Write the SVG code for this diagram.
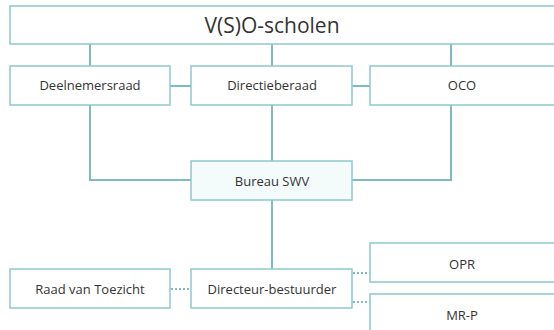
<svg xmlns="http://www.w3.org/2000/svg" width="554" height="330" viewBox="0 0 554 330">
<style>
.box{fill:#ffffff;stroke:#8fc9cc;stroke-width:1.5}
.tint{fill:#f3fbfb}
.ln{fill:none;stroke:#7dbdc1;stroke-width:2}
.dot{fill:none;stroke:#7dbdc1;stroke-width:2;stroke-dasharray:2 2}
text{font-family:"Open Sans","Noto Sans",sans-serif;fill:#333333;text-anchor:middle}
.t{font-size:13px}
</style>
<rect width="554" height="330" fill="#ffffff"/>
<g id="connectors">
<path class="ln" d="M90 44V66M272 44V66M451 44V66"/>
<path class="ln" d="M170 86H191M352 86H370"/>
<path class="ln" d="M90 105V180H191M451 105V180H352M272 105V161"/>
<path class="ln" d="M272 200V269"/>
<path class="dot" d="M171 289H191M353 273H370M353 302H370"/>
</g>
<g id="vso"><rect class="box" x="10" y="6" width="560" height="38"/><text x="272" y="33" font-size="21">V(S)O-scholen</text></g>
<g id="deelnemersraad"><rect class="box" x="10" y="66" width="160" height="39"/><text class="t" x="90" y="90">Deelnemersraad</text></g>
<g id="directieberaad"><rect class="box" x="191" y="66" width="161" height="39"/><text class="t" x="272" y="90">Directieberaad</text></g>
<g id="oco"><rect class="box" x="370" y="66" width="200" height="39"/><text class="t" x="462" y="90">OCO</text></g>
<g id="bureau"><rect class="box tint" x="191" y="161" width="161" height="39"/><text class="t" x="272" y="186">Bureau SWV</text></g>
<g id="rvt"><rect class="box" x="10" y="269" width="160" height="39"/><text class="t" x="90" y="294">Raad van Toezicht</text></g>
<g id="directeur"><rect class="box" x="191" y="269" width="161" height="39"/><text class="t" x="272" y="294">Directeur-bestuurder</text></g>
<g id="opr"><rect class="box" x="370" y="243" width="200" height="39"/><text class="t" x="462" y="269">OPR</text></g>
<g id="mrp"><rect class="box" x="370" y="294" width="200" height="50"/><text class="t" x="462" y="320">MR-P</text></g>
</svg>
